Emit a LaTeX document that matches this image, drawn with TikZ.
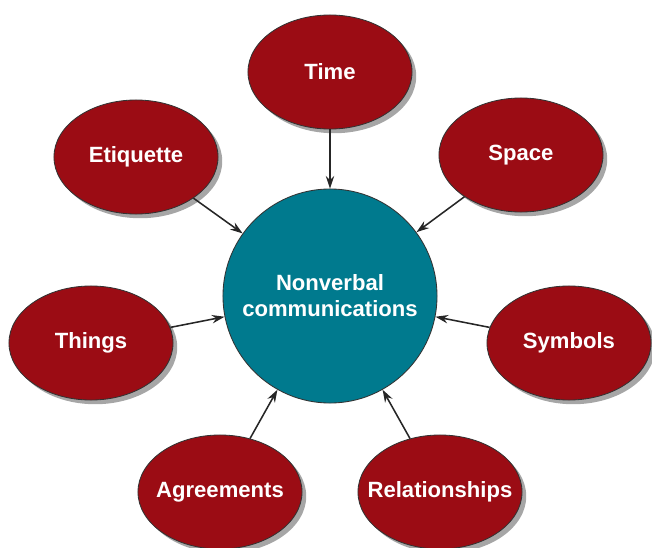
\documentclass[tikz,border=0pt]{standalone}
\usepackage{fontspec}
\setmainfont{Liberation Sans}
\usepackage{xcolor}
\usetikzlibrary{arrows.meta}
\usetikzlibrary{shapes.geometric}
\usetikzlibrary{shadows}
\definecolor{nvred}{RGB}{155,12,20}
\definecolor{nvteal}{RGB}{0,122,142}
\tikzset{
  topic/.style={ellipse,draw=black!80,line width=0.6pt,fill=nvred,
    minimum width=4.1cm,minimum height=2.85cm,inner sep=0pt,
    drop shadow={shadow xshift=3pt,shadow yshift=-3pt,opacity=0.35,fill=black},
    label={[text=white,font=\bfseries\fontsize{15.7}{18}\selectfont]center:#1}},
  hub/.style={circle,draw=black!80,line width=0.6pt,fill=nvteal,
    minimum size=5.35cm,inner sep=0pt,text=white,align=center,
    font=\bfseries\fontsize{15.7}{18.5}\selectfont},
  feed/.style={-{Stealth[length=9pt,width=6pt]},line width=1.1pt,draw=black!85}
}
\begin{document}
\begin{tikzpicture}[x=0.025cm,y=-0.025cm]
  \useasboundingbox (0,0) rectangle (652,547);
  \node[hub] (nv) at (330,296) {Nonverbal\\communications};
  \node[topic=Time] (time) at (330,72) {};
  \node[topic=Etiquette] (etq) at (136,157) {};
  \node[topic=Space] (space) at (521,155) {};
  \node[topic=Things] (things) at (91,343) {};
  \node[topic=Symbols] (symb) at (569,343) {};
  \node[topic=Agreements] (agr) at (220,492) {};
  \node[topic=Relationships] (rel) at (440,492) {};
  % arrows into the hub
  \draw[feed] (time) -- (nv);
  \draw[feed] (etq) -- (nv);
  \draw[feed] (space) -- (nv);
  \draw[feed] (things) -- (nv);
  \draw[feed] (symb) -- (nv);
  \draw[feed] (agr) -- (nv);
  \draw[feed] (rel) -- (nv);
\end{tikzpicture}
\end{document}
